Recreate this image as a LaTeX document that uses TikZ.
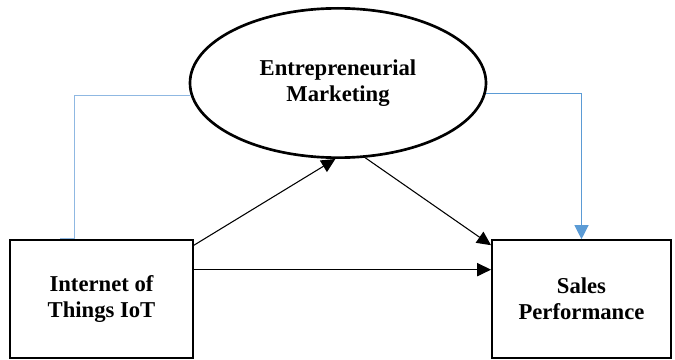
\documentclass[tikz,border=0pt]{standalone}
\usepackage{fontspec}
\setmainfont{Liberation Serif}
\usetikzlibrary{shapes.geometric,arrows.meta}
\definecolor{linkblue}{HTML}{5B9BD5}
\definecolor{paleblue}{HTML}{8FB8E2}
\tikzset{
  construct/.style={draw, line width=1.7pt, align=center, inner sep=0pt,
    font=\fontsize{17}{19.5}\selectfont\bfseries},
  pathline/.style={line width=0.8pt, -{Triangle[length=10.5pt,width=10pt]}},
}
\begin{document}
\begin{tikzpicture}[x=0.75pt, y=-0.75pt]
  \useasboundingbox (0,0) rectangle (675,360);
  % the three constructs
  \node[construct, ellipse, line width=2pt, minimum width=222pt, minimum height=112pt]
    (em) at (338,83) {Entrepreneurial\\Marketing};
  \node[construct, rectangle, minimum width=137pt, minimum height=89pt]
    (iot) at (101.5,299) {Internet of\\Things IoT};
  \node[construct, rectangle, minimum width=134pt, minimum height=88pt]
    (sales) at (581.5,299) {Sales\\Performance};
  % direct and mediated paths
  \draw[pathline] ([yshift=-5pt]iot.north east) -- (em.268);
  \draw[pathline] (em.-70) -- ([yshift=-4.5pt]sales.north west);
  \draw[pathline] ([yshift=22pt]iot.east) -- ([yshift=22pt]sales.west);
  % blue links round the ellipse
  \draw[paleblue, line width=0.9pt] (em.185.5) -| ([xshift=-20pt]iot.north)
    -- ([xshift=-31pt]iot.north);
  \draw[linkblue, line width=0.9pt, -{Triangle[length=10.5pt,width=10.5pt]}]
    (em.-4.3) -| (sales.north);
\end{tikzpicture}
\end{document}
